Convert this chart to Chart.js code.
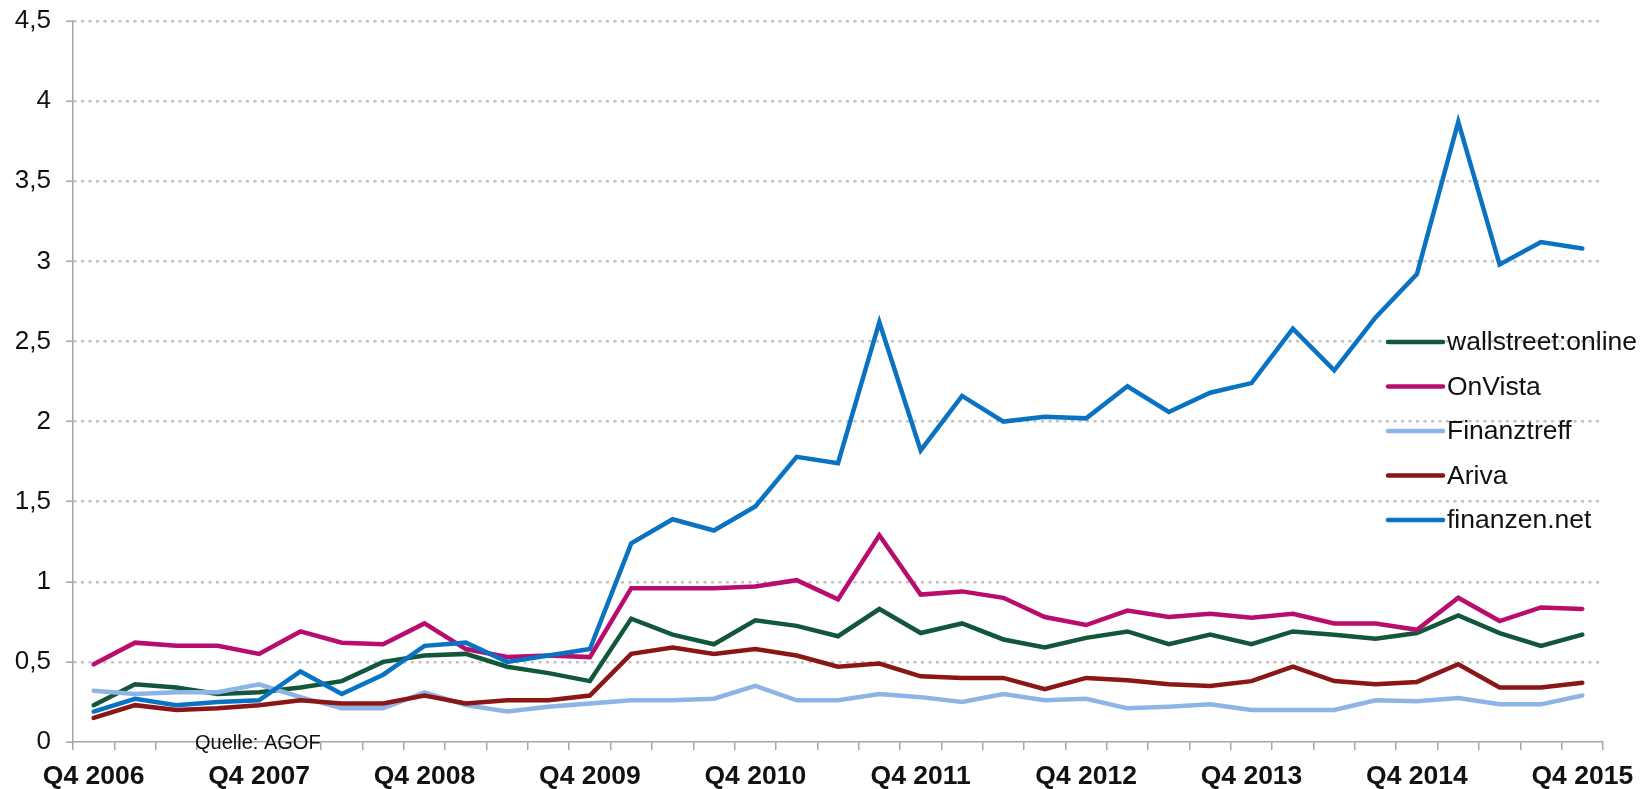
<!DOCTYPE html>
<html>
<head>
<meta charset="utf-8">
<script src="https://cdn.jsdelivr.net/npm/chart.js@4.4.1/dist/chart.umd.min.js"></script>
<style>
  html, body { margin: 0; padding: 0; background: #ffffff; }
  #wrap { width: 1652px; height: 789px; }
</style>
</head>
<body>
<div id="wrap"><canvas id="c" width="1652" height="789"></canvas></div>
<script>
// ---- data ----
const categories = [
  "Q4 2006","Q1 2007","Q2 2007","Q3 2007",
  "Q4 2007","Q1 2008","Q2 2008","Q3 2008",
  "Q4 2008","Q1 2009","Q2 2009","Q3 2009",
  "Q4 2009","Q1 2010","Q2 2010","Q3 2010",
  "Q4 2010","Q1 2011","Q2 2011","Q3 2011",
  "Q4 2011","Q1 2012","Q2 2012","Q3 2012",
  "Q4 2012","Q1 2013","Q2 2013","Q3 2013",
  "Q4 2013","Q1 2014","Q2 2014","Q3 2014",
  "Q4 2014","Q1 2015","Q2 2015","Q3 2015",
  "Q4 2015"
];
const shownTickLabels = ["Q4 2006","Q4 2007","Q4 2008","Q4 2009","Q4 2010","Q4 2011","Q4 2012","Q4 2013","Q4 2014","Q4 2015"];
const yTickValues = [0, 0.5, 1, 1.5, 2, 2.5, 3, 3.5, 4, 4.5];

const seriesNames = ["wallstreet:online", "OnVista", "Finanztreff", "Ariva", "finanzen.net"];

const wallstreetOnline = [0.23,0.36,0.34,0.30,0.31,0.34,0.38,0.50,0.54,0.55,0.47,0.43,0.38,
  0.77,0.67,0.61,0.76,0.725,0.66,0.83,0.68,0.74,0.64,0.59,0.65,
  0.69,0.61,0.67,0.61,0.69,0.67,0.645,0.68,0.79,0.68,0.60,0.67];
const onVista = [0.485,0.62,0.60,0.60,0.55,0.69,0.62,0.61,0.74,0.58,0.53,0.54,0.53,
  0.96,0.96,0.96,0.97,1.01,0.89,1.29,0.92,0.94,0.90,0.78,0.73,
  0.82,0.78,0.80,0.775,0.80,0.74,0.74,0.70,0.90,0.755,0.84,0.83];
const finanztreff = [0.32,0.30,0.31,0.31,0.36,0.28,0.21,0.21,0.31,0.23,0.19,0.22,0.24,
  0.26,0.26,0.27,0.35,0.26,0.26,0.30,0.28,0.25,0.30,0.26,0.27,
  0.21,0.22,0.235,0.20,0.20,0.20,0.26,0.255,0.275,0.235,0.235,0.29];
const ariva = [0.15,0.23,0.20,0.21,0.23,0.26,0.24,0.24,0.29,0.24,0.26,0.26,0.29,
  0.55,0.59,0.55,0.58,0.54,0.47,0.49,0.41,0.40,0.40,0.33,0.40,
  0.385,0.36,0.35,0.38,0.47,0.38,0.36,0.375,0.485,0.34,0.34,0.37];
const finanzenNet = [0.19,0.27,0.23,0.25,0.26,0.44,0.30,0.42,0.60,0.62,0.50,0.54,0.58,
  1.24,1.39,1.32,1.47,1.78,1.74,2.62,1.82,2.16,2.00,2.03,2.02,
  2.22,2.06,2.18,2.24,2.58,2.32,2.65,2.92,3.87,2.98,3.12,3.08];

const sourceNote = "Quelle: AGOF";

// ---- styles ----
const seriesColors = ["#13573a", "#b80d6e", "#8db4e6", "#8a1616", "#0a72c2"];
const FONT = "'Liberation Sans', Arial, sans-serif";
const AXIS_GRAY = "#a6a6a6";

const seriesData = [wallstreetOnline, onVista, finanztreff, ariva, finanzenNet];
const datasets = seriesNames.map((name, i) => ({
  label: name,
  data: seriesData[i],
  borderColor: seriesColors[i],
  backgroundColor: seriesColors[i],
  borderWidth: 4.5,
  pointRadius: 0,
  pointHoverRadius: 0,
  tension: 0,
  fill: false,
  borderCapStyle: 'round',
  borderJoinStyle: 'miter',
  order: seriesNames.length - 1 - i
}));

const legendPlugin = {
  id: 'customLegend',
  afterDraw(chart) {
    const ctx = chart.ctx;
    const x0 = 1388, x1 = 1443, tx = 1447;
    const y0 = 342, dy = 44.5;
    ctx.save();
    ctx.font = "26.5px " + FONT;
    ctx.textBaseline = 'middle';
    ctx.textAlign = 'left';
    chart.data.datasets.forEach((ds, i) => {
      const y = y0 + i * dy;
      ctx.strokeStyle = ds.borderColor;
      ctx.lineWidth = 4.5;
      ctx.lineCap = 'round';
      ctx.beginPath();
      ctx.moveTo(x0, y);
      ctx.lineTo(x1, y);
      ctx.stroke();
      ctx.fillStyle = '#111111';
      ctx.fillText(ds.label, tx, y + 1);
    });
    // source note
    ctx.font = "20px " + FONT;
    ctx.fillStyle = '#111111';
    ctx.textBaseline = 'middle';
    ctx.fillText(sourceNote, 195, 743);
    ctx.restore();
  }
};

new Chart(document.getElementById('c'), {
  type: 'line',
  data: { labels: categories, datasets },
  options: {
    responsive: false,
    animation: false,
    devicePixelRatio: 1,
    layout: { padding: { left: 0, right: 49, top: 21, bottom: 0 } },
    plugins: {
      legend: { display: false },
      tooltip: { enabled: false }
    },
    scales: {
      x: {
        type: 'category',
        offset: true,
        grid: {
          offset: true,
          drawOnChartArea: false,
          drawTicks: true,
          tickLength: 8,
          color: AXIS_GRAY,
          tickColor: AXIS_GRAY,
          lineWidth: 1.5
        },
        border: { display: true, color: AXIS_GRAY, width: 1.5 },
        ticks: {
          autoSkip: false,
          maxRotation: 0,
          minRotation: 0,
          padding: 11,
          color: '#111111',
          font: { family: FONT, size: 26.5, weight: 'bold' },
          callback: function(value, index) {
            const lab = categories[index];
            return shownTickLabels.includes(lab) ? lab : '';
          }
        },
        afterFit(scale) { scale.height = 47; }
      },
      y: {
        min: 0,
        max: 4.5,
        afterBuildTicks(scale) { scale.ticks = yTickValues.map(v => ({ value: v })); },
        grid: {
          color: (c) => (c.tick && c.tick.value === 0) ? 'rgba(0,0,0,0)' : '#c3c3c3',
          lineWidth: 2.5,
          tickColor: AXIS_GRAY,
          tickLength: 7,
          tickWidth: 1.5,
          drawTicks: true
        },
        border: { display: true, color: AXIS_GRAY, width: 1.5, dash: [3, 4.5] },
        ticks: {
          padding: 15,
          color: '#111111',
          font: { family: FONT, size: 26, lineHeight: 0.4 },
          callback: (v) => String(v).replace('.', ',')
        },
        afterFit(scale) { scale.width = 73; }
      }
    }
  },
  plugins: [legendPlugin]
});
</script>
</body>
</html>
